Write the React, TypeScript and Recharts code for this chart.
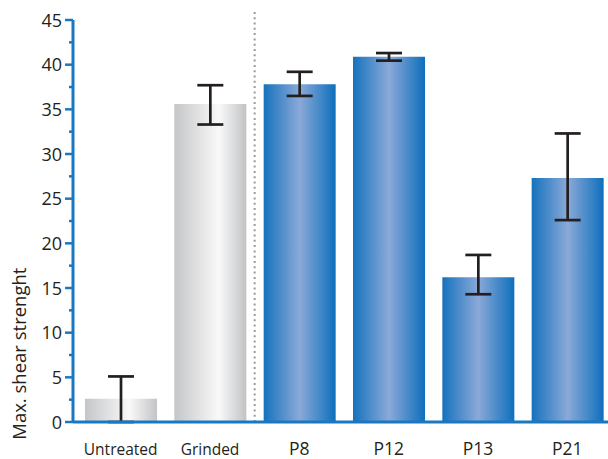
import React from 'react';
import { BarChart, Bar, XAxis, YAxis, ErrorBar, Cell, ReferenceLine } from 'recharts';

// shear test results
const categories = ['Untreated', 'Grinded', 'P8', 'P12', 'P13', 'P21'];
const references = ['Untreated', 'Grinded'];
const strength = [2.6, 35.6, 37.8, 40.9, 16.2, 27.3];
const errDown = [2.6, 2.3, 1.3, 0.45, 1.9, 4.7];
const errUp = [2.5, 2.1, 1.4, 0.4, 2.5, 5.0];
const yTicks = [0, 2.5, 5, 7.5, 10, 12.5, 15, 17.5, 20, 22.5, 25, 27.5, 30, 32.5, 35, 37.5, 40, 42.5, 45];

const data = categories.map((name, i) => ({
  name,
  value: strength[i],
  err: [errDown[i], errUp[i]],
}));

const axisBlue = '#1a78c2';
const ink = '#231f20';
const font = '"Open Sans", "Noto Sans", sans-serif';

const YTick = (props: any) => {
  const { x, y, payload } = props;
  const major = payload.value % 5 === 0;
  return (
    <g>
      <line x1={x - (major ? 8 : 4)} x2={x} y1={y} y2={y} stroke={axisBlue} strokeWidth={2.5} />
      {major && (
        <text x={x - 11} y={y} dy={6.5} textAnchor="end" fill={ink} fontSize={18} fontFamily={font}>
          {payload.value}
        </text>
      )}
    </g>
  );
};

const XTick = (props: any) => {
  const { x, y, payload } = props;
  const small = references.includes(payload.value);
  return (
    <text x={x} y={y} dy={33} textAnchor="middle" fill={ink} fontSize={small ? 15.5 : 17.5} fontFamily={font}>
      {payload.value}
    </text>
  );
};

const YLabel = (props: any) => {
  const { viewBox } = props;
  const cx = 19;
  const cy = viewBox.y + viewBox.height * 0.83;
  return (
    <text x={cx} y={cy} transform={`rotate(-90 ${cx} ${cy})`} textAnchor="middle" dominantBaseline="central"
      fill={ink} fontSize={18.5} fontFamily={font}>
      Max. shear strenght
    </text>
  );
};

const App = () => {
  return (
    <div style={{ position: 'absolute', left: 0, top: 0, width: 608, height: 459, overflow: 'hidden', background: '#fff' }}>
      <BarChart width={612} height={459} data={data} margin={{ top: 20, right: 0, bottom: 0, left: 0 }}>
        <defs>
          <linearGradient id="blueBar" x1="0" y1="0" x2="1" y2="0">
            <stop offset="0%" stopColor="#1572bd" />
            <stop offset="50%" stopColor="#8ba9d8" />
            <stop offset="100%" stopColor="#0e6fbc" />
          </linearGradient>
          <linearGradient id="grayBar" x1="0" y1="0" x2="1" y2="0">
            <stop offset="0%" stopColor="#c5c6c8" />
            <stop offset="62%" stopColor="#f9f9f9" />
            <stop offset="100%" stopColor="#c2c3c5" />
          </linearGradient>
        </defs>
        <XAxis
          dataKey="name"
          height={37}
          padding={{ left: 3, right: 0 }}
          tickLine={false}
          tickSize={0}
          tickMargin={0}
          tick={<XTick />}
          axisLine={{ stroke: axisBlue, strokeWidth: 3 }}
          interval={0}
        />
        <YAxis
          width={73}
          domain={[0, 45]}
          ticks={yTicks}
          interval={0}
          tickLine={false}
          tickSize={0}
          tickMargin={0}
          tick={<YTick />}
          axisLine={{ stroke: axisBlue, strokeWidth: 3 }}
          label={<YLabel />}
        />
        <ReferenceLine
          segment={[{ x: 'P8', y: 0 }, { x: 'P8', y: 46.1 }]}
          position="start"
          ifOverflow="visible"
          stroke="#9a9a9a"
          strokeWidth={2}
          strokeDasharray="2 3.3"
        />
        <Bar dataKey="value" barSize={72} isAnimationActive={false}>
          {data.map((d) => (
            <Cell key={d.name} fill={references.includes(d.name) ? 'url(#grayBar)' : 'url(#blueBar)'} />
          ))}
          <ErrorBar dataKey="err" direction="y" width={13} strokeWidth={2.7} stroke={ink} isAnimationActive={false} />
        </Bar>
      </BarChart>
    </div>
  );
};

export default App;
